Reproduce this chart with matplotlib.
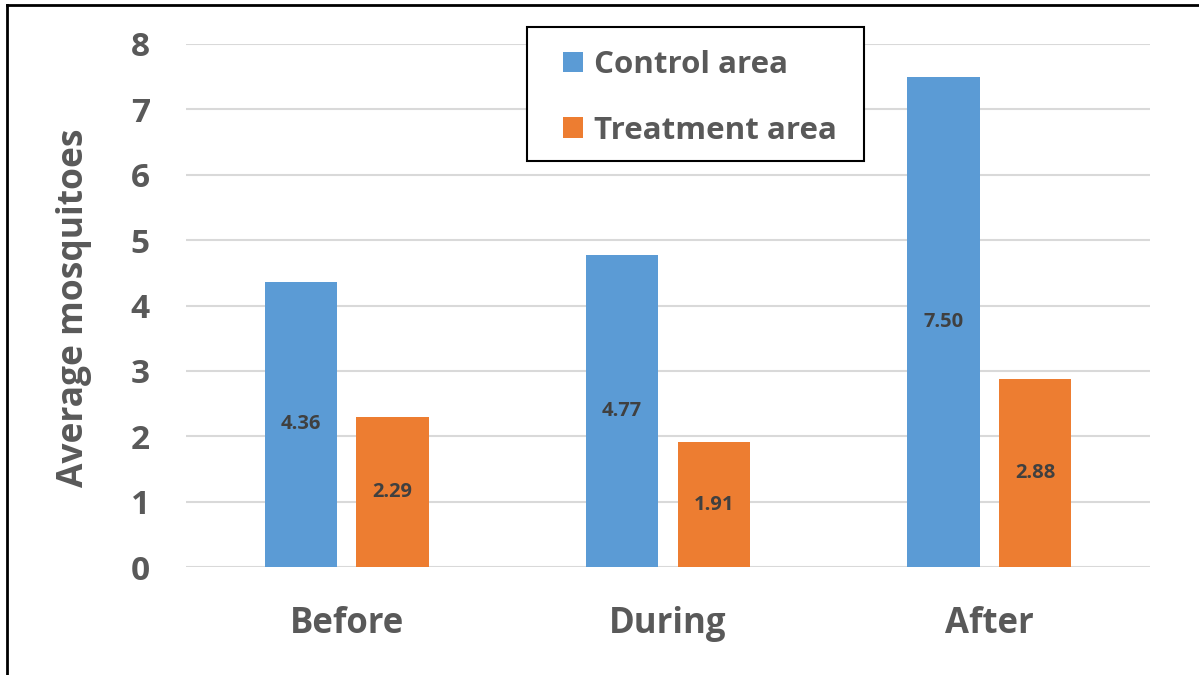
import matplotlib.pyplot as plt
import numpy as np
from matplotlib.lines import Line2D
from matplotlib.patches import Rectangle

plt.rcParams['font.family'] = ['Open Sans', 'DejaVu Sans']

periods = ['Before', 'During', 'After']
control = [4.36, 4.77, 7.50]
treatment = [2.29, 1.91, 2.88]
series_names = ['Control area', 'Treatment area']
yticks = [0, 1, 2, 3, 4, 5, 6, 7, 8]

blue = '#5B9BD5'
orange = '#ED7D31'
grey = '#595959'

W, H = 1199, 675
fig = plt.figure(figsize=(W / 100, H / 100), dpi=100)
ax = fig.add_axes([186 / W, 1 - 567 / H, 964 / W, 523 / H])

x = np.arange(len(periods))
w = 0.225
off = 0.143
b1 = ax.bar(x - off, control, w, color=blue, label=series_names[0], zorder=3)
b2 = ax.bar(x + off, treatment, w, color=orange, label=series_names[1], zorder=3)

# value labels in the middle of each bar
for bars in (b1, b2):
    for r in bars:
        h = r.get_height()
        ax.text(r.get_x() + r.get_width() / 2, h / 2, f'{h:.2f}',
                ha='center', va='center', fontsize=14.5, fontweight='bold',
                color='#404040', zorder=4)

ax.set_xlim(-0.5, 2.5)
ax.set_ylim(0, 8)
ax.set_yticks(yticks)
ax.set_xticks(x)
ax.set_xticklabels(periods)
ax.yaxis.grid(True, color='#D9D9D9', linewidth=1.5, zorder=0)
for s in ax.spines.values():
    s.set_visible(False)
ax.tick_params(axis='both', length=0, colors=grey)
ax.tick_params(axis='y', labelsize=24, pad=26)
ax.tick_params(axis='x', labelsize=25, pad=28)
for t in ax.get_xticklabels() + ax.get_yticklabels():
    t.set_fontweight('bold')

ax.set_ylabel('Average mosquitoes', fontsize=25.5, fontweight='bold', color=grey)
ax.yaxis.set_label_coords(-0.098, 0.495)

# legend box drawn separately, entries placed inside it without a frame
ax.add_patch(Rectangle((527 / W, 1 - 161 / H), (864 - 527) / W, (161 - 27) / H,
                       transform=fig.transFigure, facecolor='white',
                       edgecolor='black', linewidth=1.5, zorder=5, clip_on=False))
leg = ax.legend(loc='upper left', bbox_to_anchor=(563 / W, 1 - 50 / H),
                bbox_transform=fig.transFigure,
                prop={'weight': 'bold', 'size': 22.5}, frameon=False,
                handlelength=0.65, handleheight=0.65, handletextpad=0.35,
                labelspacing=1.14, borderpad=0, borderaxespad=0)
leg.set_zorder(6)
for t in leg.get_texts():
    t.set_color(grey)

# outer frame (top and left edges)
fig.add_artist(Line2D([7 / W, 1], [1 - 5 / H, 1 - 5 / H], color='black', linewidth=2))
fig.add_artist(Line2D([7 / W, 7 / W], [0, 1 - 5 / H], color='black', linewidth=2))

plt.savefig('out.png', dpi=100)
